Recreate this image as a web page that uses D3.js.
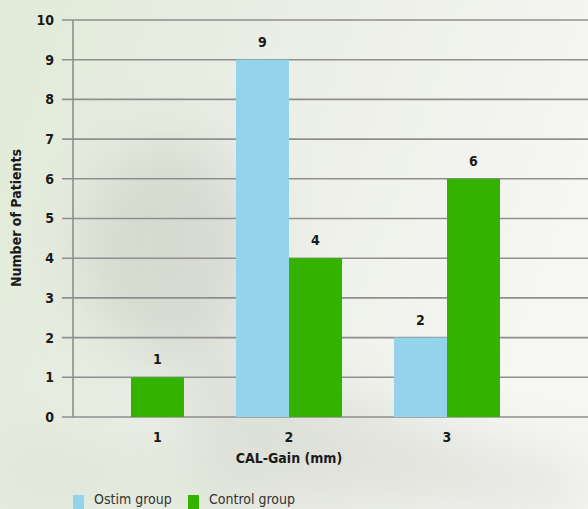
<!DOCTYPE html>
<html><head><meta charset="utf-8">
<script src="https://cdn.jsdelivr.net/npm/d3@7/dist/d3.min.js"></script>
<style>html,body{margin:0;padding:0;overflow:hidden;background:#eef1ea}</style>
</head><body><svg id="c" width="588" height="509"></svg>
<script>
const categories = ["1", "2", "3"];
const seriesNames = ["Ostim group", "Control group"];
const ostim = [0, 9, 2];
const control = [1, 4, 6];
const yTicks = [0,1,2,3,4,5,6,7,8,9,10];
const colors = ["#94d3ec", "#33b300"];

const W = 588, H = 509;
const svg = d3.select("#c");
const font = "'DejaVu Sans Condensed','Liberation Sans Narrow',sans-serif";

// background
const defs = svg.append("defs");
const lg = defs.append("linearGradient").attr("id","bg").attr("x1","0").attr("y1","0").attr("x2","1").attr("y2","0.3");
lg.append("stop").attr("offset","0").attr("stop-color","#e1ebd8");
lg.append("stop").attr("offset","0.45").attr("stop-color","#eaeee5");
lg.append("stop").attr("offset","1").attr("stop-color","#f6f6f3");
svg.append("rect").attr("width",W).attr("height",H).attr("fill","url(#bg)");
const blur = defs.append("filter").attr("id","bl").attr("x","-50%").attr("y","-50%").attr("width","200%").attr("height","200%");
blur.append("feGaussianBlur").attr("stdDeviation",30);
svg.append("ellipse").attr("cx",170).attr("cy",250).attr("rx",90).attr("ry",110)
  .attr("fill","#c4c8bd").attr("opacity",0.5).attr("filter","url(#bl)");
svg.append("path").attr("d","M180,330 C300,380 420,430 588,470 L588,509 L200,509 Z")
  .attr("fill","#c9cdc3").attr("opacity",0.45).attr("filter","url(#bl)");
svg.append("path").attr("d","M0,430 L250,470 L250,509 L0,509 Z").attr("fill","#d7e0cf").attr("opacity",0.5).attr("filter","url(#bl)");

const y = d3.scaleLinear().domain([0,10]).range([417,20]);
const x0 = d3.scalePoint().domain(categories).range([131,447]);
const x1 = d3.scaleBand().domain(seriesNames).range([-53,53]);
const axisX = 73;

// grid
svg.append("g").selectAll("line").data(yTicks).join("line")
  .attr("x1",62).attr("x2",W).attr("y1",d=>y(d)).attr("y2",d=>y(d))
  .attr("stroke","#8f8f8f").attr("stroke-width",1.6);
svg.append("line").attr("x1",axisX).attr("x2",axisX).attr("y1",y(10)).attr("y2",y(0))
  .attr("stroke","#8f8f8f").attr("stroke-width",1.6);

// y tick labels
svg.append("g").selectAll("text").data(yTicks).join("text")
  .attr("x",54).attr("y",d=>y(d)).attr("dy","0.35em").attr("text-anchor","end")
  .attr("font-family",font).attr("font-weight","bold").attr("font-size",14).attr("fill","#1a1a1a")
  .text(d=>d);

// bars
const rows = categories.map((c,i)=>({cat:c, vals:[ostim[i], control[i]]}));
const g = svg.append("g");
rows.forEach(r=>{
  r.vals.forEach((v,j)=>{
    if (v<=0) return;
    const bx = x0(r.cat)+x1(seriesNames[j]);
    g.append("rect").attr("x",bx).attr("y",y(v)).attr("width",x1.bandwidth()).attr("height",y(0)-y(v)).attr("fill",colors[j]);
    g.append("text").attr("x",bx+x1.bandwidth()/2).attr("y",y(v)-13).attr("text-anchor","middle")
      .attr("font-family",font).attr("font-weight","bold").attr("font-size",14).attr("fill","#1a1a1a").text(v);
  });
});

// x tick labels: centered on visible bars of each category
rows.forEach(r=>{
  const xs = [];
  r.vals.forEach((v,j)=>{ if(v>0){ const bx=x0(r.cat)+x1(seriesNames[j]); xs.push(bx, bx+x1.bandwidth()); }});
  const cx = (d3.min(xs)+d3.max(xs))/2;
  svg.append("text").attr("x",cx).attr("y",442).attr("text-anchor","middle")
    .attr("font-family",font).attr("font-weight","bold").attr("font-size",14).attr("fill","#1a1a1a").text(r.cat);
});

// axis titles
svg.append("text").attr("x",289).attr("y",463).attr("text-anchor","middle")
  .attr("font-family",font).attr("font-weight","bold").attr("font-size",14).attr("fill","#1a1a1a").text("CAL-Gain (mm)");
svg.append("text").attr("transform","translate(21,218) rotate(-90)").attr("text-anchor","middle")
  .attr("font-family",font).attr("font-weight","bold").attr("font-size",14).attr("fill","#1a1a1a").text("Number of Patients");

// legend
const leg = svg.append("g");
const legX = [73, 188];
seriesNames.forEach((s,i)=>{
  leg.append("rect").attr("x",legX[i]).attr("y",495).attr("width",11).attr("height",14).attr("fill",colors[i]);
  leg.append("text").attr("x",legX[i]+21).attr("y",504).attr("font-family",font).attr("font-size",14).attr("fill","#333").text(s);
});
</script></body></html>
